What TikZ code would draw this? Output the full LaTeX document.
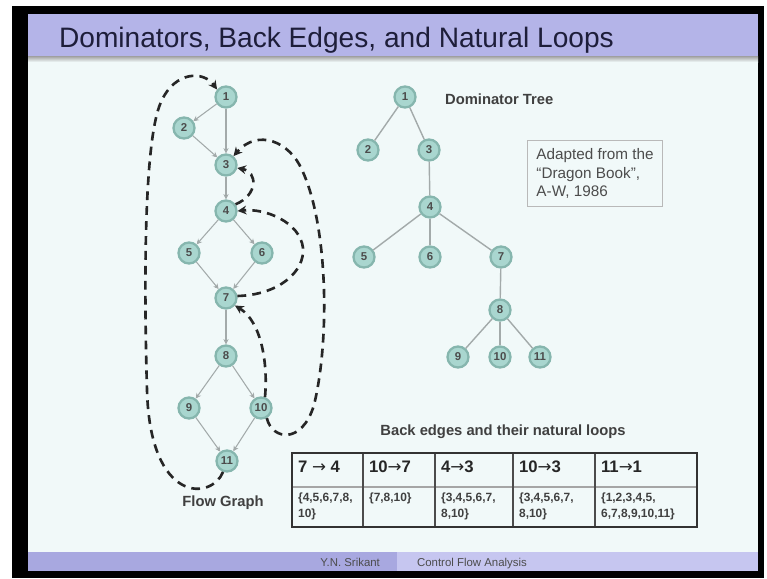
\documentclass[tikz,border=0pt]{standalone}
\usepackage{fontspec}
\setmainfont{Liberation Sans}
\newfontfamily\arrowfont{DejaVu Sans}
\usetikzlibrary{arrows.meta}

\definecolor{slidebg}{HTML}{F1F9F9}
\definecolor{band}{HTML}{B4B4E8}
\definecolor{bandlo}{HTML}{A8A8E0}
\definecolor{bandhi}{HTML}{C6C6F0}
\definecolor{titleink}{HTML}{1E1E3A}
\definecolor{nodefill}{HTML}{A9D6CF}
\definecolor{noderim}{HTML}{86B6AE}
\definecolor{edgegray}{HTML}{A3AAAA}

\newcommand{\edgearrow}{{\arrowfont\mdseries →}}

\tikzset{
  vtx/.style={circle,fill=nodefill,draw=noderim,line width=1.3pt,minimum size=0.42cm,inner sep=0pt,
    font=\bfseries\fontsize{6.5}{6.5}\selectfont,text=black!70},
  flow/.style={draw=edgegray,line width=0.6pt,-{Stealth[length=3pt,width=3pt]}},
  tree/.style={draw=edgegray,line width=0.8pt},
  back/.style={draw=black!85,line width=1.5pt,dash pattern=on 5pt off 3.5pt,-{Stealth[length=5pt,width=5pt]}},
  lbl/.style={font=\bfseries\fontsize{8.4}{9}\selectfont,text=black!75},
  head/.style={anchor=north west,font=\bfseries\fontsize{9.5}{10}\selectfont,text=black!85},
  loops/.style={anchor=north west,align=left,font=\bfseries\fontsize{6.8}{9}\selectfont,text=black!75}
}

\begin{document}
\begin{tikzpicture}[x=0.02cm,y=-0.02cm,inner sep=1pt]
\useasboundingbox (0,0) rectangle (767,578);

% slide frame, title bar and footer
\fill[white] (0,0) rectangle (767,578);
\fill[black] (12,6) rectangle (764,578);
\fill[slidebg] (28,14) rectangle (758,571);
\fill[band] (28,14) rectangle (758,56);
\shade[top color=gray!75,bottom color=slidebg] (28,56) rectangle (758,62);
\fill[bandlo] (28,552) rectangle (397,571);
\fill[bandhi] (397,552) rectangle (758,571);

\node[anchor=base west,font=\fontsize{16}{16}\selectfont,text=titleink] (title) at (57,47) {Dominators, Back Edges, and Natural Loops};
\node[anchor=base east,font=\fontsize{6.5}{7}\selectfont,text=black!70] (author) at (382,566) {Y.N. Srikant};
\node[anchor=base west,font=\fontsize{6.5}{7}\selectfont,text=black!70] (talk) at (415,566) {Control Flow Analysis};

% flow graph
\node[vtx] (f1) at (226,97) {1};
\node[vtx] (f2) at (184,128) {2};
\node[vtx] (f3) at (226,165) {3};
\node[vtx] (f4) at (226,211) {4};
\node[vtx] (f5) at (189,253) {5};
\node[vtx] (f6) at (262,253) {6};
\node[vtx] (f7) at (226,298) {7};
\node[vtx] (f8) at (226,356) {8};
\node[vtx] (f9) at (189,408) {9};
\node[vtx] (f10) at (261,408) {10};
\node[vtx] (f11) at (227,461) {11};
\node[lbl] (flowlbl) at (223,503) {Flow Graph};

\path[flow]
  (f1) edge (f2) (f1) edge (f3) (f2) edge (f3) (f3) edge (f4)
  (f4) edge (f5) (f4) edge (f6) (f5) edge (f7) (f6) edge (f7)
  (f7) edge (f8) (f8) edge (f9) (f8) edge (f10) (f9) edge (f11) (f10) edge (f11);

% back edges
\draw[back] (f11.250) .. controls (212,500) and (150,505) .. (147,390)
  .. controls (143,250) and (146,130) .. (162,100)
  .. controls (175,72) and (203,70) .. (f1.140);
\draw[back] (f10.-60) .. controls (272,440) and (302,445) .. (314,405)
  .. controls (330,340) and (328,225) .. (302,170)
  .. controls (290,142) and (258,128) .. (f3.50);
\draw[back] (f4.35) .. controls (258,195) and (258,172) .. (f3.-15);
\draw[back] (f7.10) .. controls (278,295) and (305,272) .. (303,248)
  .. controls (300,222) and (265,208) .. (f4.east);
\draw[back] (f10.70) .. controls (268,365) and (262,322) .. (f7.-40);

% dominator tree
\node[vtx] (d1) at (405,97) {1};
\node[vtx] (d2) at (368,150) {2};
\node[vtx] (d3) at (429,150) {3};
\node[vtx] (d4) at (430,207) {4};
\node[vtx] (d5) at (364,257) {5};
\node[vtx] (d6) at (430,257) {6};
\node[vtx] (d7) at (501,257) {7};
\node[vtx] (d8) at (500,310) {8};
\node[vtx] (d9) at (458,357) {9};
\node[vtx] (d10) at (500,357) {10};
\node[vtx] (d11) at (540,357) {11};
\node[lbl,anchor=west] (domlbl) at (443,99) {Dominator Tree};

\path[tree]
  (d1) edge (d2) (d1) edge (d3) (d3) edge (d4)
  (d4) edge (d5) (d4) edge (d6) (d4) edge (d7)
  (d7) edge (d8) (d8) edge (d9) (d8) edge (d10) (d8) edge (d11);

\node[draw=gray!55,line width=0.7pt,anchor=north west,align=left,inner xsep=0.12cm,inner ysep=0.1cm,
  minimum width=2.7cm,minimum height=1.32cm,font=\fontsize{8.7}{10.5}\selectfont,text=black!70]
  (src) at (527,140) {Adapted from the\\“Dragon Book”,\\A-W, 1986};

% back edges and their loops
\node[lbl] (tbllbl) at (503,432) {Back edges and their natural loops};
\draw[gray!70,line width=0.6pt] (292,487) -- (697,487);
\foreach \x in {363,435,513,595}
  \draw[black!70,line width=0.8pt] (\x,453) -- (\x,527);
\draw[black!80,line width=1.4pt] (292,453) rectangle (697,527);

\node[head] (h1) at (296,459) {7 \edgearrow{} 4};
\node[head] (h2) at (367,459) {10\edgearrow7};
\node[head] (h3) at (439,459) {4\edgearrow3};
\node[head] (h4) at (517,459) {10\edgearrow3};
\node[head] (h5) at (599,459) {11\edgearrow1};
\node[loops] (l1) at (296,491) {\{4,5,6,7,8,\\10\}};
\node[loops] (l2) at (367,491) {\{7,8,10\}};
\node[loops] (l3) at (439,491) {\{3,4,5,6,7,\\8,10\}};
\node[loops] (l4) at (517,491) {\{3,4,5,6,7,\\8,10\}};
\node[loops] (l5) at (599,491) {\{1,2,3,4,5,\\6,7,8,9,10,11\}};

\end{tikzpicture}
\end{document}
